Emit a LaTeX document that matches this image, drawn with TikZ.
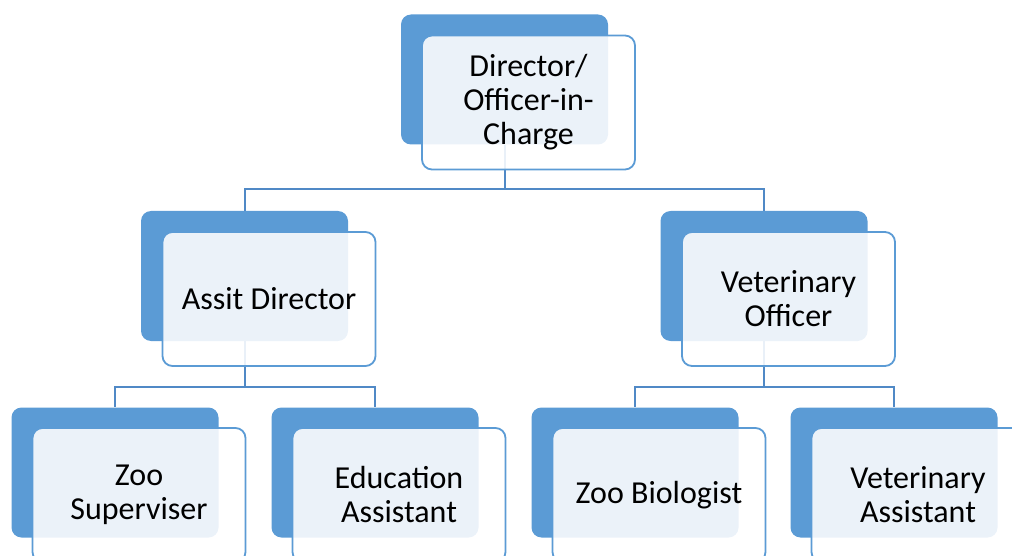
\documentclass[tikz,border=0pt]{standalone}
\usepackage{fontspec}
\setmainfont{Carlito}
\usepackage{tikz, xcolor}

\definecolor{boxblue}{HTML}{5B9BD5}
\definecolor{lineblue}{HTML}{5089C6}

\tikzset{
    backbox/.style={rectangle, rounded corners=10pt, fill=boxblue, draw=none,
        minimum width=207pt, minimum height=130pt, inner sep=0pt},
    frontbox/.style={rectangle, rounded corners=10pt, draw=boxblue, line width=1.8pt,
        fill=white, fill opacity=0.88, text opacity=1,
        minimum width=213pt, minimum height=134pt, inner sep=0pt,
        text width=205pt, align=flush center, font=\fontsize{32}{34}\selectfont},
    link/.style={draw=lineblue, line width=2pt}
}

\begin{document}
\begin{tikzpicture}[x=1pt, y=-1pt]
    \useasboundingbox (0,0) rectangle (1012,556);
    \clip (0,0) rectangle (1012,556);
    % back boxes
    \node [backbox] (dirB) at (504.5,79.5) {};
    \node [backbox] (asdB) at (244.5,276) {};
    \node [backbox] (vetB) at (764,276) {};
    \node [backbox] (supB) at (115,472.5) {};
    \node [backbox] (eduB) at (375,472.5) {};
    \node [backbox] (bioB) at (635,472.5) {};
    \node [backbox] (vasB) at (894,472.5) {};
    % connectors
    \draw [link] (dirB.south) -- ++(0,44) -| (asdB.north);
    \draw [link] (dirB.south) -- ++(0,44) -| (vetB.north);
    \draw [link] (asdB.south) -- ++(0,46) -| (supB.north);
    \draw [link] (asdB.south) -- ++(0,46) -| (eduB.north);
    \draw [link] (vetB.south) -- ++(0,46) -| (bioB.north);
    \draw [link] (vetB.south) -- ++(0,46) -| (vasB.north);
    % front boxes
    \node [frontbox] (dir) at ([shift={(24,23)}]dirB.center) {Director/\\Officer-in-\\Charge};
    \node [frontbox] (asd) at ([shift={(24.5,23)}]asdB.center) {Assit Director};
    \node [frontbox] (vet) at ([shift={(24.5,23)}]vetB.center) {Veterinary\\Officer};
    \node [frontbox] (sup) at ([shift={(24,22.5)}]supB.center) {Zoo\\Superviser};
    \node [frontbox] (edu) at ([shift={(24,22.5)}]eduB.center) {Education\\Assistant};
    \node [frontbox] (bio) at ([shift={(24,22.5)}]bioB.center) {Zoo Biologist};
    \node [frontbox] (vas) at ([shift={(24,22.5)}]vasB.center) {Veterinary\\Assistant};
\end{tikzpicture}
\end{document}
